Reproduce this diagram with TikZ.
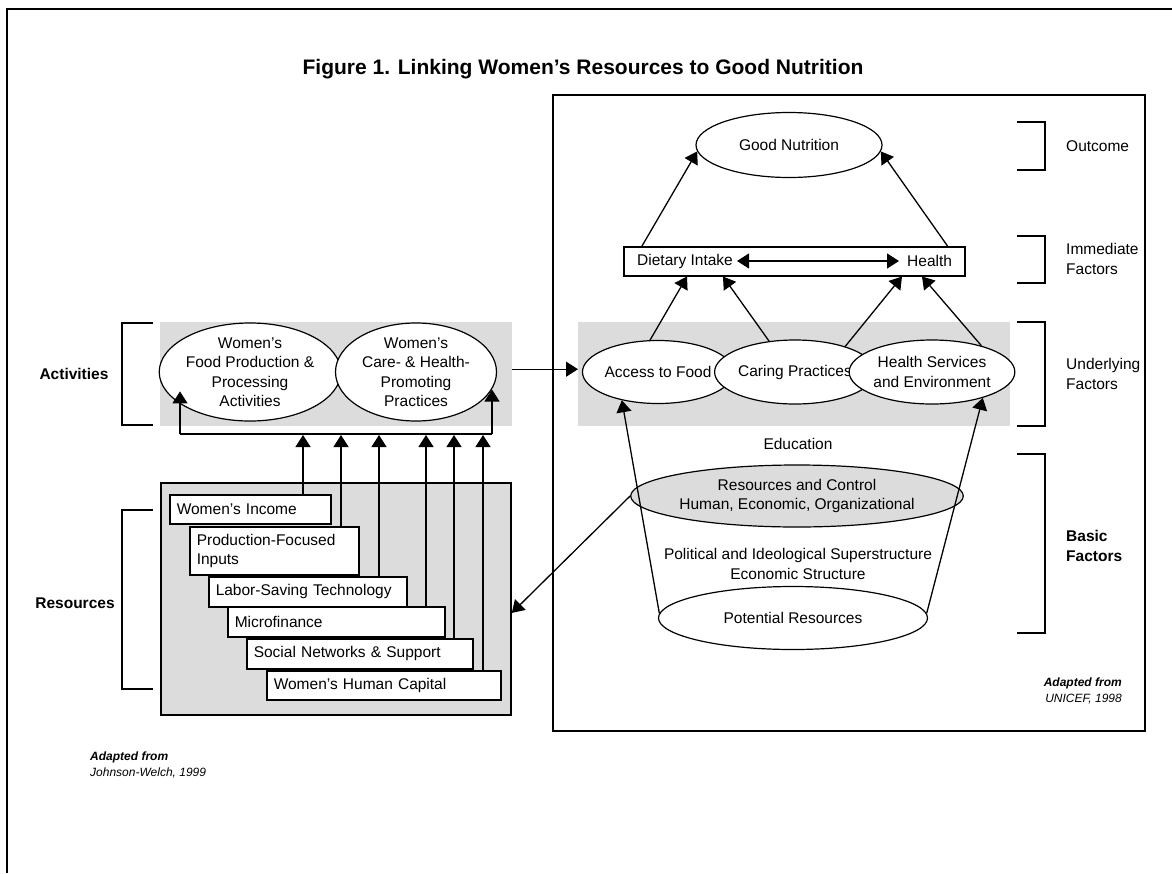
\documentclass[tikz,border=0pt]{standalone}
\usepackage{fontspec}
\setmainfont{Liberation Sans}
\usetikzlibrary{arrows.meta,shapes.geometric,calc}
\definecolor{bandgray}{HTML}{DCDCDC}
\begin{document}
\begin{tikzpicture}[x=1pt,y=-1pt,
  body/.style={font=\fontsize{15.5}{19.5}\selectfont},
  ell/.style={ellipse, draw, line width=1.2pt, fill=white, inner sep=0pt, align=center, body},
  rbox/.style={draw, fill=white, line width=1.5pt, anchor=north west, inner xsep=7pt, inner ysep=0pt, align=left, body},
  arr/.style={-{Triangle[length=12pt,width=15pt]}, line width=1.3pt},
  darr/.style={{Triangle[length=12pt,width=15pt]}-{Triangle[length=12pt,width=15pt]}, line width=1.3pt},
  brk/.style={line width=1.6pt},
  band/.style={fill=bandgray, draw=none, inner sep=0pt, anchor=north west},
  lbl/.style={body, inner sep=0pt},
  blbl/.style={font=\fontsize{15.5}{19.5}\selectfont\bfseries, inner sep=0pt, align=left},
  small/.style={font=\fontsize{12}{15.5}\selectfont, inner sep=0pt}
]
\useasboundingbox (0,0) rectangle (1172,873);
% outer frame (cut at right and bottom)
\draw[line width=2pt] (7,873) -- (7,9) -- (1175,9);

% title
\node[font=\fontsize{21}{24}\selectfont\bfseries, inner sep=0pt, anchor=base] (title) at (583,74) {Figure 1. Linking Women’s Resources to Good Nutrition};

% right framed box
\node[draw, line width=1.8pt, anchor=north west, minimum width=592pt, minimum height=636pt, inner sep=0pt] (rbox) at (552,94) {};

% ---------- left part ----------
\node[band, minimum width=352pt, minimum height=104pt] (actband) at (160,322) {};
\node[ell, minimum width=161pt, minimum height=84pt] (act1) at (250,372) {Women’s\\Food Production \&\\Processing\\Activities};
\node[ell, minimum width=161pt, minimum height=84pt] (act2) at (416,372) {Women’s\\Care- \& Health-\\Promoting\\Practices};

\node[draw, line width=1.8pt, fill=bandgray, anchor=north west, minimum width=350pt, minimum height=232pt, inner sep=0pt] (resbox) at (160,482) {};

\node[rbox, text width=147pt, minimum height=29pt] (r1) at (169,494) {Women’s Income};
\node[rbox, text width=155pt, minimum height=48pt] (r2) at (189,526) {Production-Focused\\Inputs};
\node[rbox, text width=184pt, minimum height=30pt] (r3) at (208,576) {Labor-Saving Technology};
\node[rbox, text width=203pt, minimum height=30pt] (r4) at (227,606) {Microfinance};
\node[rbox, text width=212pt, minimum height=30pt] (r5) at (246,638) {Social Networks \& Support};
\node[rbox, text width=220pt, minimum height=29pt] (r6) at (266,670) {Women’s Human Capital};

% feedback line
\coordinate (fbl) at (180,434);
\coordinate (fbr) at (492,434);
\draw[line width=1.3pt] (fbl) -- (fbr);
\draw[arr] (fbl) -- (act1.193 -| fbl);
\draw[arr] (fbr) -- (act2.347 -| fbr);

\coordinate (u1) at ($(r1.north west)+(134,0)$);
\coordinate (u2) at ($(r2.north west)+(152,0)$);
\coordinate (u3) at ($(r3.north west)+(171,0)$);
\coordinate (u4) at ($(r4.north west)+(199,0)$);
\coordinate (u5) at ($(r5.north west)+(208,0)$);
\coordinate (u6) at ($(r6.north west)+(217,0)$);
\foreach \u in {u1,u2,u3,u4,u5,u6}{\draw[arr] (\u) -- ($(\u |- fbl)+(0,1)$);}

% left brackets and labels
\draw[brk] (153,323) -- (122,323) -- (122,425) -- (153,425);
\draw[brk] (153,510) -- (122,510) -- (122,689) -- (153,689);
\node[blbl] (lact) at (74,374) {Activities};
\node[blbl] (lres) at (75,603) {Resources};

\node[small, anchor=north west, align=left] (src1) at (90,752) {\textbf{\itshape Adapted from}\\\itshape Johnson-Welch, 1999};

% ---------- right part ----------
\node[ell, minimum width=186pt, minimum height=65pt] (gn) at (789,145) {Good Nutrition};

\node[draw, line width=1.5pt, anchor=north west, minimum width=341pt, minimum height=29pt, inner sep=0pt] (imm) at (623,246) {};
\node[lbl, anchor=west] (diet) at (637,261) {Dietary Intake};
\node[lbl, anchor=west] (hlth) at (907,261) {Health};
\draw[darr, shorten <=4pt, shorten >=8pt] (diet.east) -- (hlth.west);

\draw[arr] ($(imm.north west)+(19,0)$) -- (gn.184);
\draw[arr] ($(imm.north east)+(-18,0)$) -- (gn.356);

\node[band, minimum width=432pt, minimum height=104pt] (undband) at (578,322) {};
\node[ell, minimum width=143pt, minimum height=63pt] (acc) at (658,372) {Access to Food};
\node[ell, minimum width=145pt, minimum height=64pt] (car) at (795,372) {Caring Practices};
\node[ell, minimum width=141pt, minimum height=64pt] (hse) at (932,372) {Health Services\\and Environment};

\draw[arr] (acc.104) -- ($(imm.south west)+(64,0)$);
\draw[arr] (car.130) -- ($(imm.south west)+(100,0)$);
\draw[arr] (car.27) -- ($(imm.south west)+(279,0)$);
\draw[arr] (hse.28) -- ($(imm.south west)+(299,0)$);

\draw[arr] ($(actband.east)+(0,-5)$) -- ($(undband.west)+(0,-5)$);

\node[lbl] (edu) at (798,444) {Education};
\node[ell, fill=bandgray, minimum width=310pt, minimum height=62pt] (rc) at (797,496) {Resources and Control\\Human, Economic, Organizational};
\node[lbl, align=center] (pol) at (798,564) {Political and Ideological Superstructure\\Economic Structure};
\node[ell, minimum width=269pt, minimum height=63pt] (pot) at (793,618) {Potential Resources};

\draw[arr] (pot.178) -- (acc.218);
\draw[arr] (pot.2) -- (hse.333);
\draw[arr] (rc.180) -- ($(resbox.east)+(0,14)$);

% right brackets and labels
\draw[brk] (1017,122) -- (1045,122) -- (1045,170) -- (1017,170);
\draw[brk] (1017,236) -- (1045,236) -- (1045,283) -- (1017,283);
\draw[brk] (1017,322) -- (1045,322) -- (1045,426) -- (1017,426);
\draw[brk] (1017,454) -- (1045,454) -- (1045,633) -- (1017,633);
\node[lbl, anchor=west, align=left] (lout) at (1066,146) {Outcome};
\node[lbl, anchor=west, align=left] (limm) at (1066,259) {Immediate\\Factors};
\node[lbl, anchor=west, align=left] (lund) at (1066,374) {Underlying\\Factors};
\node[blbl, anchor=west] (lbas) at (1066,546) {Basic\\Factors};

\node[small, anchor=north east, align=right] (src2) at (1122,678) {\textbf{\itshape Adapted from}\\\itshape UNICEF, 1998};
\end{tikzpicture}
\end{document}
